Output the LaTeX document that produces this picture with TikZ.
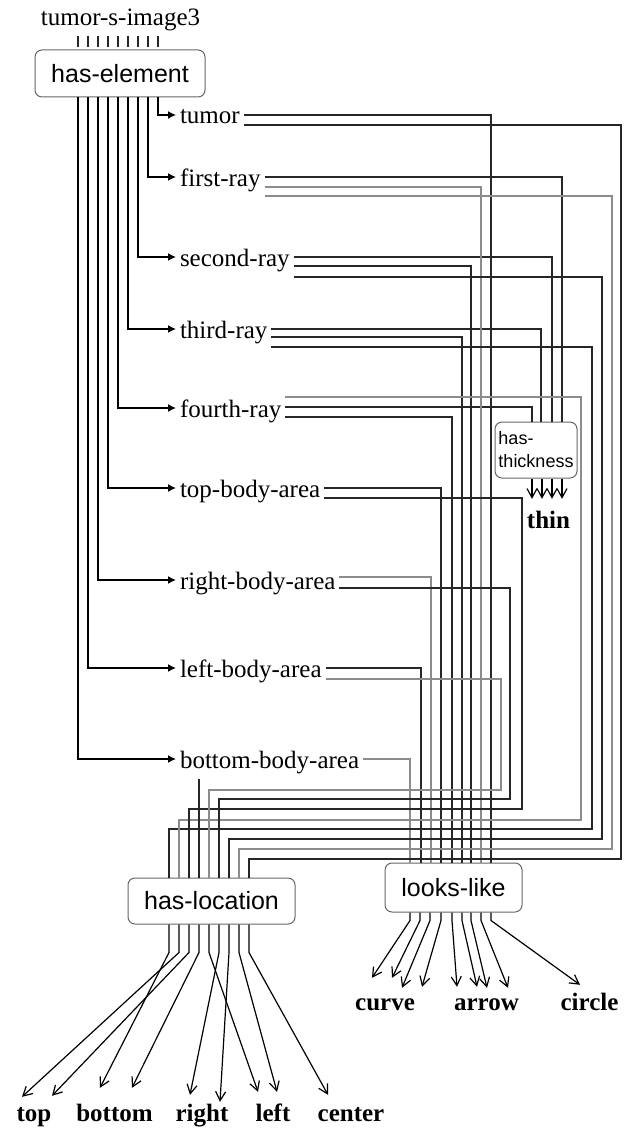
\documentclass[tikz,border=0pt]{standalone}
\usepackage{fontspec}
\setmainfont{Liberation Serif}
\setsansfont{Liberation Sans}
\usetikzlibrary{arrows.meta, calc}

\tikzset{
  rel/.style={draw=black!60, line width=1pt, rounded corners=7pt, inner sep=0pt,
              font=\sffamily\fontsize{25}{30}\selectfont},
  elem/.style={anchor=west, inner sep=0pt, outer xsep=4pt, text height=18pt,
               text depth=0pt, font=\fontsize{25}{30}\selectfont},
  val/.style={anchor=base, inner sep=0pt, text height=17pt,
              font=\bfseries\fontsize{25}{30}\selectfont},
  wire/.style={line width=1.4pt, black!85},
  faint/.style={line width=1.4pt, black!45},
  pick/.style={line width=1.4pt, -{Latex[length=8pt,width=8pt]}},
  barb/.style={line width=1.2pt, -{Straight Barb[length=9pt,width=10pt]}},
}

\begin{document}
\begin{tikzpicture}[x=1pt, y=1pt]
    \useasboundingbox (0,0) rectangle (636,-1129);
    % Image and its elements
    \node[font=\fontsize{25}{30}\selectfont, anchor=base, inner sep=0pt,
          outer ysep=4.5pt] (image) at (120.5,-26) {tumor-s-image3};
    \node[rel, minimum width=170pt, minimum height=47pt] (haselem) at (120,-73.5) {has-element};
    \foreach \x in {78,88,...,158}
        \draw[wire, shorten >=2pt] (image.south -| \x,0) -- (haselem.north -| \x,0);

    \node[elem] (tumor)  at (176,-115) {tumor};
    \node[elem] (ray1)   at (176,-177) {first-ray};
    \node[elem] (ray2)   at (176,-257) {second-ray};
    \node[elem] (ray3)   at (176,-329) {third-ray};
    \node[elem] (ray4)   at (176,-408) {fourth-ray};
    \node[elem] (topb)   at (176,-488) {top-body-area};
    \node[elem] (rightb) at (176,-580) {right-body-area};
    \node[elem] (leftb)  at (176,-668) {left-body-area};
    \node[elem] (botb)   at (176,-759) {bottom-body-area};
    \foreach \n/\x in {tumor/158, ray1/148, ray2/138, ray3/128, ray4/118,
                       topb/108, rightb/98, leftb/88, botb/78}
        \draw[pick] (haselem.south -| \x,0) |- (\n.west);

    % Relations
    \node[rel, minimum width=82pt, minimum height=56pt, align=left,
          font=\sffamily\fontsize{18}{23}\selectfont] (thick) at (536,-450) {has-\\thickness};
    \node[rel, minimum width=167pt, minimum height=46pt] (loc) at (211.5,-901) {has-location};
    \node[rel, minimum width=137pt, minimum height=49pt] (looks) at (453.5,-887.5) {looks-like};

    % Values
    \node[val] (thin)    at (548.5,-528) {thin};
    \node[val] (vcurve)  at (385,-1010)  {curve};
    \node[val] (varrow)  at (486.5,-1010) {arrow};
    \node[val] (vcircle) at (589.5,-1010) {circle};
    \node[val] (vtop)    at (34,-1121)   {top};
    \node[val] (vbottom) at (114.5,-1121) {bottom};
    \node[val] (vright)  at (202,-1121)  {right};
    \node[val] (vleft)   at (273,-1121)  {left};
    \node[val] (vcenter) at (351,-1121)  {center};

    % has-thickness
    \foreach \n/\y/\x in {ray1/177/562, ray2/257/552, ray3/329/541, ray4/407/532}
        \draw[wire] (\n.east |- 0,-\y) -| (thick.north -| \x,0);
    \foreach \x in {532,542,552,562}
        \draw[barb, shorten >=12pt] (thick.south -| \x,0) -- (thin.north -| \x,0);

    % looks-like
    \foreach \n/\y/\x/\s in {tumor/115/491/wire, ray1/187/481/faint, ray2/266/471/wire,
                             ray3/337/462/wire, ray4/417/452/wire, topb/488/441/wire,
                             rightb/577/431/faint, leftb/668/421/wire, botb/759/410/faint}
        \draw[\s] (\n.east |- 0,-\y) -| (looks.north -| \x,0);

    % has-location
    \foreach \n/\y/\x/\h/\t/\s in {tumor/125/621/859/249/wire, ray1/196/612/849/239/faint,
                                   ray2/277/602/839/229/wire, ray3/347/592/829/169/wire,
                                   ray4/397/581/820/179/faint, topb/498/522/809/189/wire,
                                   rightb/588/510/799/219/wire, leftb/679/501/790/209/faint}
        \draw[\s] (\n.east |- 0,-\y) -| (\x,-\h) -| (loc.north -| \t,0);
    \coordinate (botb-loc) at (199,-779);
    \draw[wire] (botb-loc) -- (loc.north -| botb-loc);

    % Outgoing values
    \foreach \x/\v/\dx/\dy in {169/vbottom/-14.5/16, 179/vtop/-12/7, 189/vtop/18/8,
                               199/vbottom/17.5/16, 209/vleft/-15/12, 219/vright/-12/9,
                               229/vright/18/2, 239/vleft/4/12, 249/vcenter/-23/9}
        \draw[barb] (loc.south -| \x,0) -- ++(0,-28) -- ($(\v.north)+(\dx,\dy)$);
    \foreach \x/\v/\dx/\dy in {410/vcurve/-13/15, 420/vcurve/7/15, 430/vcurve/17/5,
                               441/vcurve/37/6, 452/varrow/-29.5/6, 462/varrow/-9.5/6,
                               471/varrow/0.5/5, 481/varrow/21.5/5, 491/vcircle/-9.5/8}
        \draw[barb] (looks.south -| \x,0) -- ++(0,-8) -- ($(\v.north)+(\dx,\dy)$);
\end{tikzpicture}
\end{document}
